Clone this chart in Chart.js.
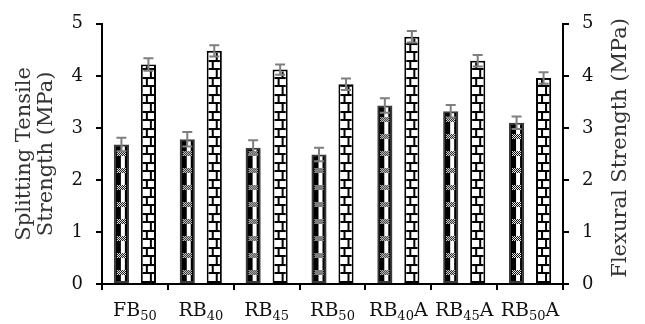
<!DOCTYPE html>
<html lang="en">
<head>
  <meta charset="UTF-8">
  <title>Splitting Tensile and Flexural Strength</title>
  <script src="https://cdn.jsdelivr.net/npm/chart.js"></script>
  <style>
    body { margin: 0; background: #fff; }
    #wrap { width: 645px; height: 324px; position: relative; }
  </style>
</head>
<body>
  <div id="wrap"><canvas id="strengthChart"></canvas></div>

  <script>
    // Categories: base name, subscript, trailing letter
    const catBase = ['FB', 'RB', 'RB', 'RB', 'RB', 'RB', 'RB'];
    const catSub  = ['50', '40', '45', '50', '40', '45', '50'];
    const catTail = ['', '', '', '', 'A', 'A', 'A'];

    // Splitting tensile strength (MPa) and its error
    const splitVals = [2.68, 2.78, 2.62, 2.49, 3.43, 3.32, 3.10];
    const splitErr  = [0.13, 0.14, 0.14, 0.13, 0.14, 0.12, 0.12];

    // Flexural strength (MPa) and its error
    const flexVals = [4.22, 4.48, 4.12, 3.84, 4.75, 4.29, 3.96];
    const flexErr  = [0.12, 0.11, 0.10, 0.11, 0.11, 0.11, 0.11];

    const yTicks = [0, 1, 2, 3, 4, 5];

    const SERIF = '"DejaVu Serif", "Liberation Serif", serif';

    // Pattern tiles
    function makeSplitTile() {
      const c = document.createElement('canvas');
      c.width = 11; c.height = 17;
      const g = c.getContext('2d');
      g.fillStyle = '#000'; g.fillRect(0, 0, 11, 17);
      g.fillStyle = '#fff'; g.fillRect(5, 0, 4, 17);
      // checker blob
      g.fillStyle = '#fff'; g.fillRect(1, 6, 9, 5);
      g.fillStyle = '#000';
      for (let y = 6; y < 11; y++) {
        for (let x = 1; x < 10; x++) {
          if ((x + y) % 2 === 0) g.fillRect(x, y, 1, 1);
        }
      }
      return c;
    }
    function makeBrickTile() {
      const c = document.createElement('canvas');
      c.width = 11; c.height = 17;
      const g = c.getContext('2d');
      g.fillStyle = '#fff'; g.fillRect(0, 0, 11, 17);
      g.fillStyle = '#000';
      g.fillRect(0, 0, 11, 2);
      g.fillRect(0, 8, 11, 2);
      g.fillRect(3, 2, 2, 6);
      g.fillRect(7, 10, 2, 7);
      return c;
    }
    const tiles = [makeSplitTile(), makeBrickTile()];

    // fill the inner part of each bar with its pattern, aligned to the bar
    const patternFill = {
      id: 'patternFill',
      afterDatasetDraw(chart, args) {
        const ctx = chart.ctx;
        const meta = args.meta;
        const tile = tiles[args.index];
        const bw = chart.data.datasets[args.index].borderWidth;
        meta.data.forEach(el => {
          const p = el.getProps(['x', 'y', 'base', 'width'], true);
          const left = p.x - p.width / 2 + bw;
          const right = p.x + p.width / 2 - bw;
          const top = p.y + bw;
          const bottom = p.base - bw;
          const pat = ctx.createPattern(tile, 'repeat');
          pat.setTransform(new DOMMatrix().translateSelf(left, bottom));
          ctx.save();
          ctx.fillStyle = pat;
          ctx.fillRect(left, top, right - left, bottom - top);
          ctx.restore();
        });
      }
    };

    // error bars from the datasets' own scales
    const errorBars = {
      id: 'errorBars',
      afterDatasetsDraw(chart) {
        const ctx = chart.ctx;
        const errs = [splitErr, flexErr];
        chart.data.datasets.forEach((ds, i) => {
          const meta = chart.getDatasetMeta(i);
          const ys = chart.scales[meta.yAxisID];
          meta.data.forEach((el, j) => {
            const x = el.getProps(['x'], true).x;
            const v = ds.data[j];
            const yHi = ys.getPixelForValue(v + errs[i][j]);
            const yLo = ys.getPixelForValue(v - errs[i][j]);
            ctx.save();
            ctx.strokeStyle = '#7f7f7f';
            ctx.lineWidth = 2;
            ctx.beginPath();
            ctx.moveTo(x, yLo); ctx.lineTo(x, yHi);
            ctx.moveTo(x - 5, yHi); ctx.lineTo(x + 5, yHi);
            ctx.moveTo(x - 5, yLo); ctx.lineTo(x + 5, yLo);
            ctx.stroke();
            ctx.restore();
          });
        });
      }
    };

    // category labels with subscripts, and axis titles
    const labelsAndTitles = {
      id: 'labelsAndTitles',
      afterDraw(chart) {
        const ctx = chart.ctx;
        const xs = chart.scales.x;
        const area = chart.chartArea;
        ctx.save();
        ctx.fillStyle = '#111';
        ctx.textBaseline = 'alphabetic';
        catBase.forEach((b, i) => {
          const cx = xs.getPixelForValue(i);
          ctx.font = '19px ' + SERIF;
          const w1 = ctx.measureText(b).width;
          const w3 = ctx.measureText(catTail[i]).width;
          ctx.font = '13px ' + SERIF;
          const w2 = ctx.measureText(catSub[i]).width;
          let x0 = cx - (w1 + w2 + w3) / 2;
          ctx.font = '19px ' + SERIF;
          ctx.textAlign = 'left';
          ctx.fillText(b, x0, 316);
          ctx.font = '13px ' + SERIF;
          ctx.fillText(catSub[i], x0 + w1, 320);
          ctx.font = '19px ' + SERIF;
          ctx.fillText(catTail[i], x0 + w1 + w2, 316);
        });

        const midY = (area.top + area.bottom) / 2;
        ctx.fillStyle = '#333';
        ctx.font = '21px ' + SERIF;
        ctx.textAlign = 'center';
        ctx.textBaseline = 'middle';
        ctx.translate(25, midY);
        ctx.rotate(-Math.PI / 2);
        ctx.fillText('Splitting Tensile', 0, 0);
        ctx.fillText('Strength (MPa)', 0, 22);
        ctx.restore();

        ctx.save();
        ctx.fillStyle = '#333';
        ctx.font = '21px ' + SERIF;
        ctx.textAlign = 'center';
        ctx.textBaseline = 'middle';
        ctx.translate(621, midY - 6);
        ctx.rotate(-Math.PI / 2);
        ctx.fillText('Flexural Strength (MPa)', 0, 0);
        ctx.restore();
      }
    };

    function yAxis(position, width) {
      return {
        position,
        min: yTicks[0],
        max: yTicks[yTicks.length - 1],
        afterBuildTicks(scale) { scale.ticks = yTicks.map(v => ({ value: v })); },
        afterFit(scale) { scale.width = width; },
        border: { display: true, color: '#000', width: 2 },
        grid: { drawOnChartArea: false, drawTicks: true, tickLength: 6, color: '#000', lineWidth: 2 },
        ticks: { color: '#111', padding: 13, font: { family: SERIF, size: 18 } }
      };
    }

    new Chart(document.getElementById('strengthChart'), {
      type: 'bar',
      data: {
        labels: catBase.map((b, i) => b + catSub[i] + catTail[i]),
        datasets: [
          {
            label: 'Splitting Tensile Strength',
            data: splitVals,
            yAxisID: 'y',
            backgroundColor: '#000',
            borderColor: '#3a3a3a',
            borderWidth: 2,
            borderSkipped: false,
            categoryPercentage: 0.82,
            barPercentage: 0.56
          },
          {
            label: 'Flexural Strength',
            data: flexVals,
            yAxisID: 'y2',
            backgroundColor: '#fff',
            borderColor: '#000',
            borderWidth: 2,
            borderSkipped: false,
            categoryPercentage: 0.82,
            barPercentage: 0.56
          }
        ]
      },
      options: {
        responsive: true,
        maintainAspectRatio: false,
        animation: false,
        layout: { padding: { top: 20, left: 0, right: 0, bottom: 0 } },
        plugins: { legend: { display: false }, tooltip: { enabled: false } },
        scales: {
          x: {
            afterFit(scale) { scale.height = 40; },
            border: { display: true, color: '#000', width: 2 },
            grid: { offset: true, drawOnChartArea: false, drawTicks: true, tickLength: 6, color: '#000', lineWidth: 2 },
            ticks: { display: false }
          },
          y: yAxis('left', 102),
          y2: yAxis('right', 82)
        }
      },
      plugins: [patternFill, errorBars, labelsAndTitles]
    });
  </script>
</body>
</html>
